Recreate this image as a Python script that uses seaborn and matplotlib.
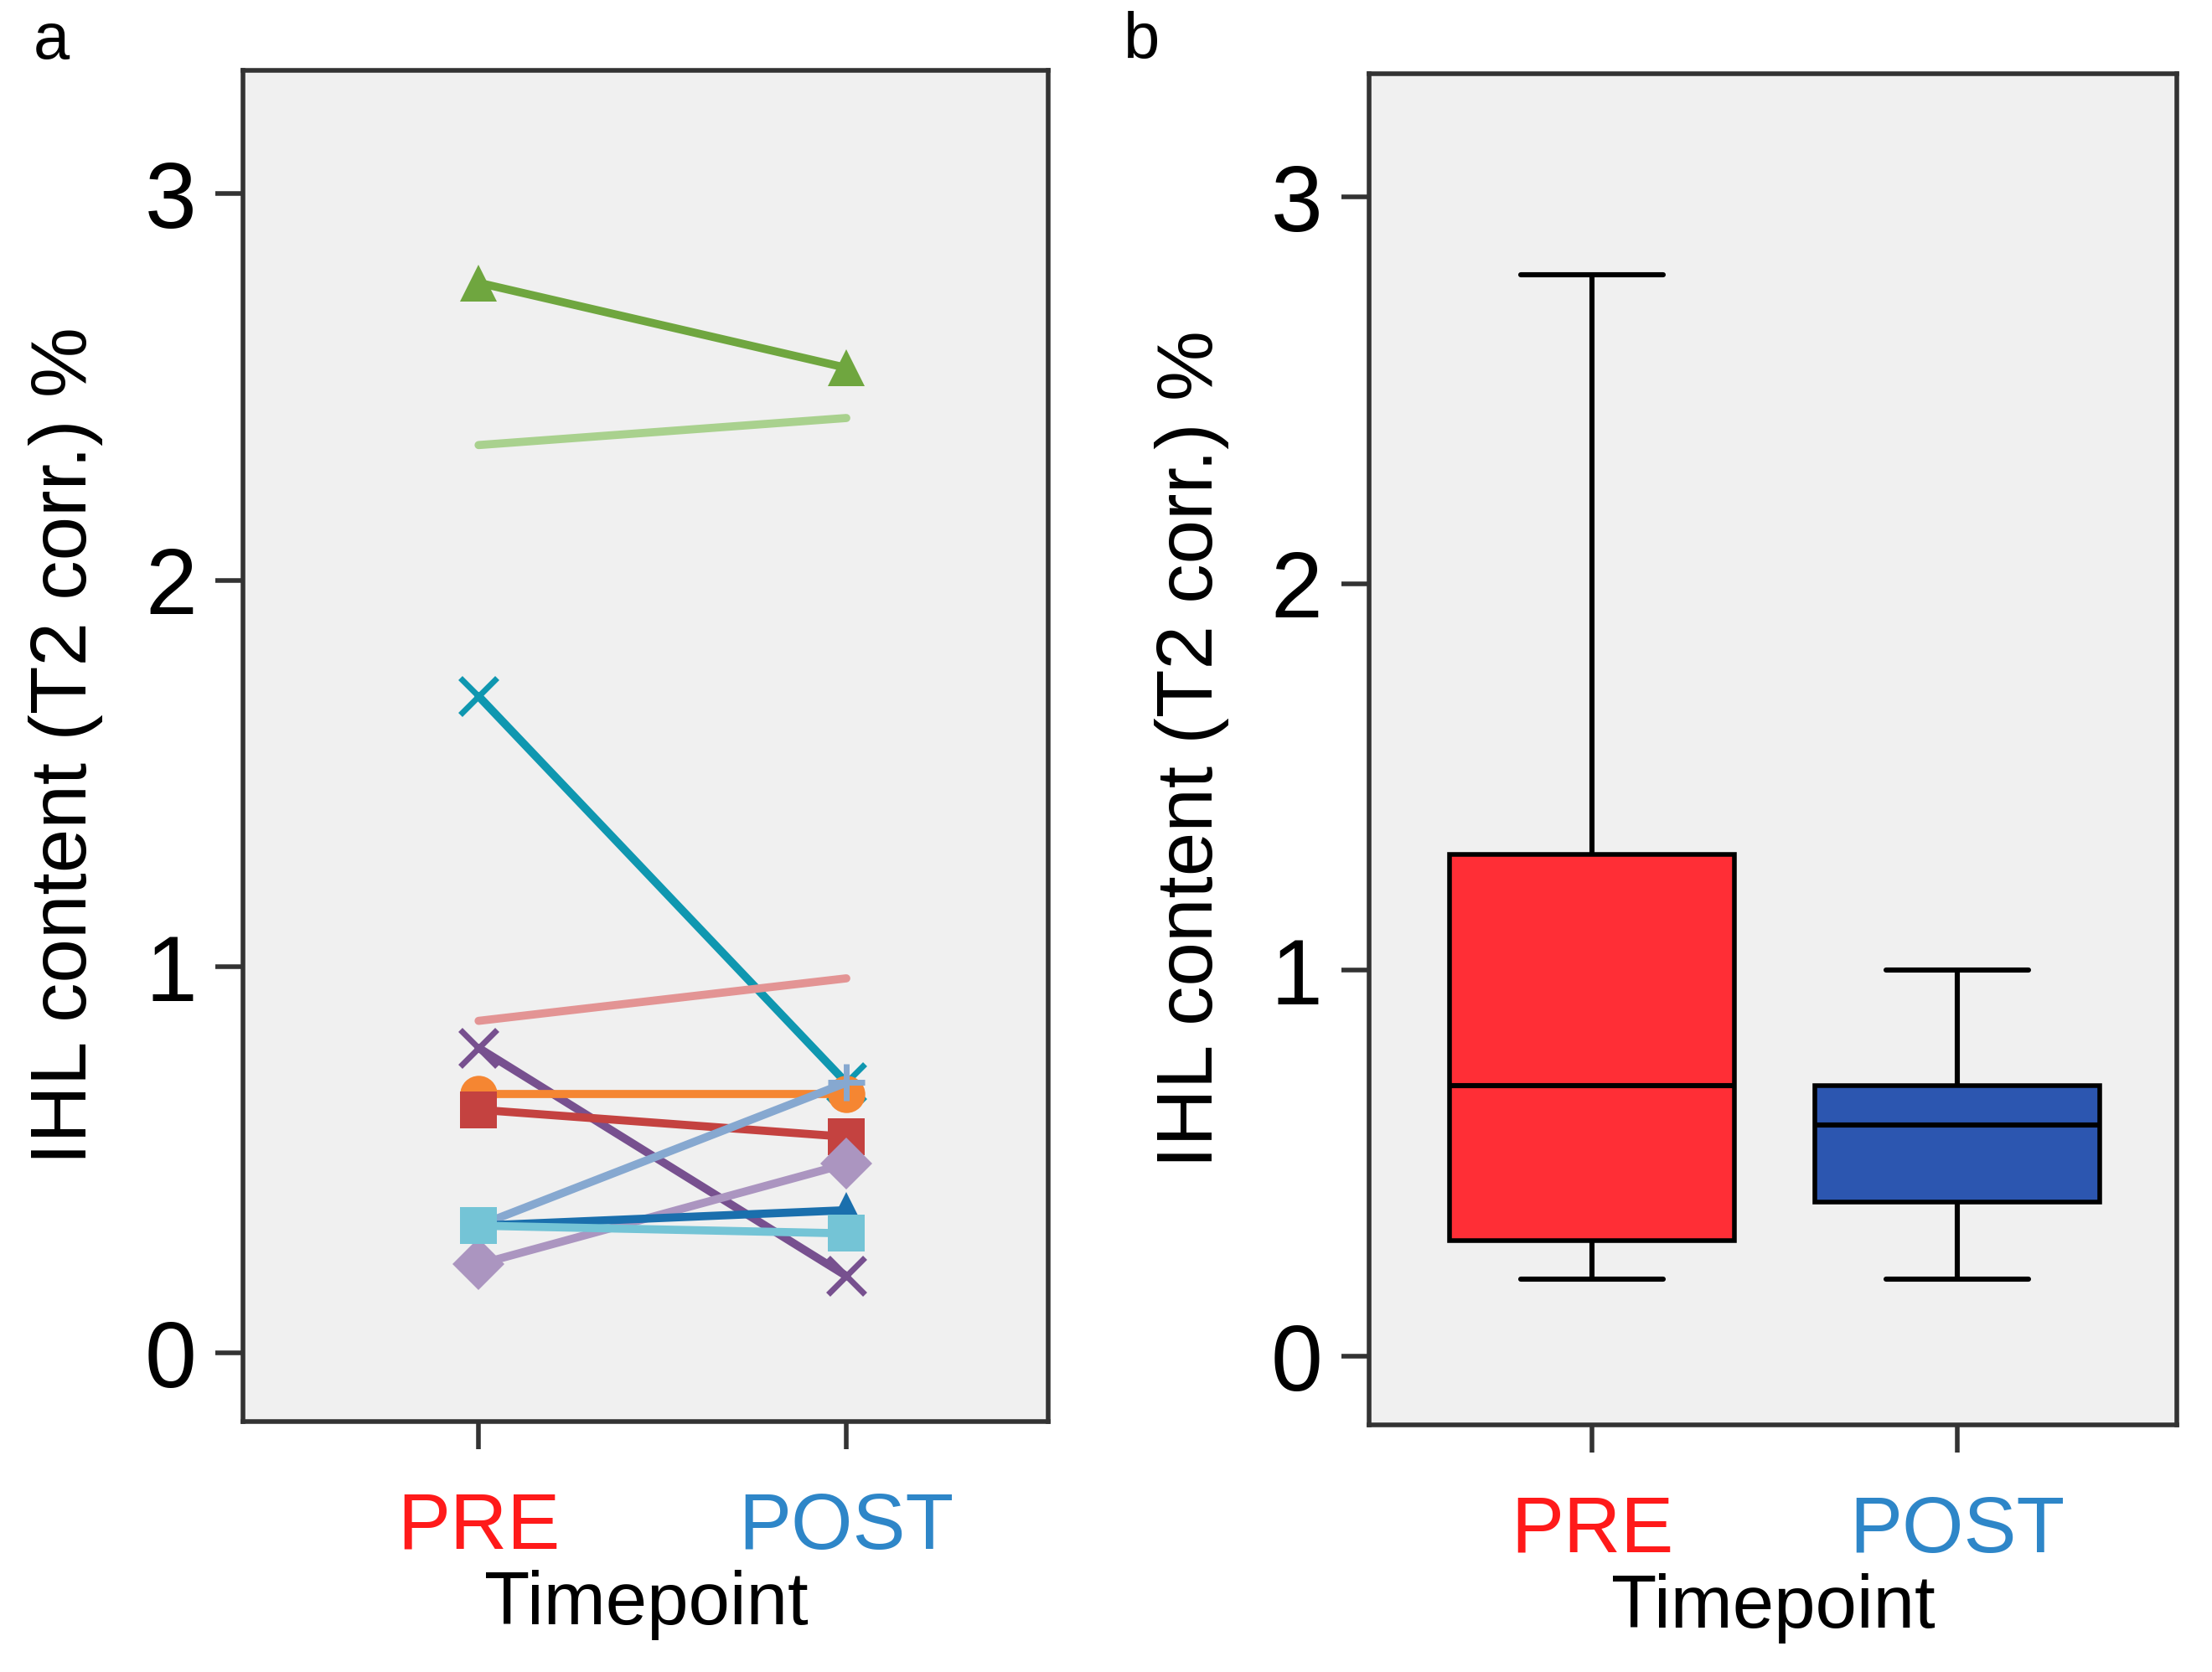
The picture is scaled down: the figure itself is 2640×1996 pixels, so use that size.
import seaborn as sns
import matplotlib.pyplot as plt
import numpy as np
import pandas as pd

timepoints = ["PRE", "POST"]
subjects = ["s1", "s2", "s3", "s4", "s5", "s6", "s7", "s8", "s9", "s10", "s11"]
pre_values = [2.77, 2.35, 1.70, 0.86, 0.79, 0.67, 0.63, 0.33, 0.23, 0.33, 0.33]
post_values = [2.55, 2.42, 0.70, 0.97, 0.20, 0.67, 0.56, 0.70, 0.49, 0.37, 0.31]
line_colors = ["#6fa63f", "#a9d18e", "#0f97b0", "#e39494", "#77508f", "#f58632",
               "#c44240", "#86a8d0", "#ab95c0", "#1a6fad", "#74c4d6"]
line_markers = ["^", "", "x", "", "x", "o", "s", "+", "D", "^", "s"]

# box plot five-number summaries (min, q1, median, q3, max)
pre_box = [0.2, 0.3, 0.7, 1.3, 2.8]
post_box = [0.2, 0.4, 0.6, 0.7, 1.0]
box_colors = ["#ff2e36", "#2c56b0"]
label_colors = ["#ff1a1a", "#2e86c8"]

sns.set_style("white")
plt.rcParams["font.family"] = ["Liberation Sans", "DejaVu Sans"]
plt.rcParams["text.color"] = "black"
plt.rcParams["axes.labelcolor"] = "black"
plt.rcParams["ytick.color"] = "black"

fig = plt.figure(figsize=(13.2, 9.98), dpi=200)
ax_a = fig.add_axes([0.110, 0.150, 0.364, 0.808])
ax_b = fig.add_axes([0.619, 0.148, 0.365, 0.808])

# panel a: paired lines
df = pd.DataFrame({
    "subject": subjects * 2,
    "timepoint": [0] * len(subjects) + [1] * len(subjects),
    "value": pre_values + post_values,
})
for i, s in enumerate(subjects):
    sub = df[df["subject"] == s]
    m = line_markers[i]
    sns.lineplot(data=sub, x="timepoint", y="value", ax=ax_a, color=line_colors[i],
                 lw=3.5, marker=m if m else None, markersize=16,
                 markeredgewidth=2.5 if m in ("x", "+") else 0,
                 markeredgecolor=line_colors[i], legend=False)

# panel b: box plot
box_df = pd.DataFrame({
    "timepoint": ["PRE"] * 5 + ["POST"] * 5,
    "value": pre_box + post_box,
})
sns.boxplot(data=box_df, x="timepoint", y="value", hue="timepoint", palette=box_colors,
            whis=(0, 100), width=0.78, ax=ax_b, legend=False, linecolor="black",
            linewidth=2, saturation=1)
for line in ax_b.lines:
    line.set_color("black")
    line.set_linewidth(2.2)

for ax, xlim in [(ax_a, (-0.64, 1.55)), (ax_b, (-0.61, 1.60))]:
    ax.set_facecolor("#f0f0f0")
    ax.set_xlim(*xlim)
    ax.set_ylim(-0.176, 3.32)
    ax.set_yticks([0, 1, 2, 3])
    ax.set_yticklabels(["0", "1", "2", "3"], fontsize=40)
    ax.set_xticks([0, 1])
    ax.set_xticklabels(timepoints, fontsize=34)
    for t, c in zip(ax.get_xticklabels(), label_colors):
        t.set_color(c)
    ax.tick_params(axis="both", direction="out", length=12, width=2, color="#333333",
                   pad=8, bottom=True, left=True)
    ax.tick_params(axis="x", pad=18)
    for sp in ax.spines.values():
        sp.set_color("#333333")
        sp.set_linewidth(2)
    ax.set_xlabel("Timepoint", fontsize=32, labelpad=2)
    ax.set_ylabel("IHL content (T2 corr.) %", fontsize=34, labelpad=18)

fig.text(0.015, 0.965, "a", fontsize=28)
fig.text(0.508, 0.965, "b", fontsize=28)

fig.savefig("out.png", dpi=200)
